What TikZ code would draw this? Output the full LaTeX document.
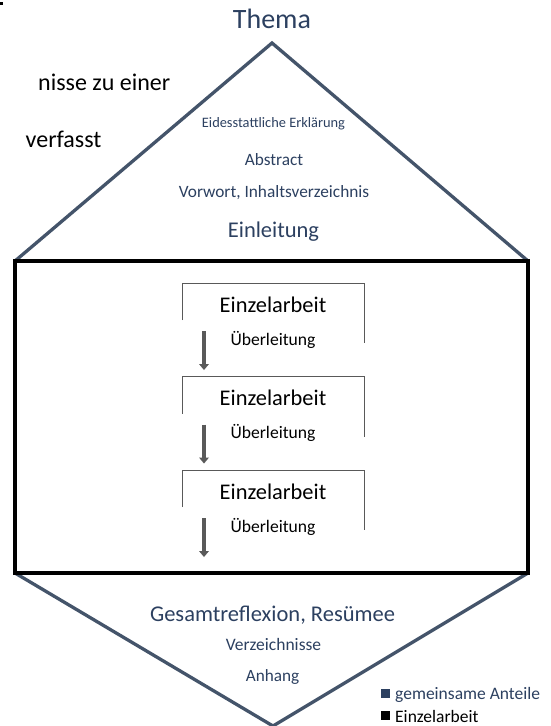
\documentclass[tikz,border=0pt]{standalone}
\usepackage{fontspec}
\setmainfont{Carlito}
\definecolor{navy}{HTML}{2C4060}
\definecolor{slate}{HTML}{44546A}
\definecolor{pfeil}{HTML}{595959}
\newcommand{\schrift}[1]{\fontsize{#1}{#1}\selectfont}
\begin{document}
\begin{tikzpicture}[x=1pt,y=-1pt]
\tikzstyle{every node}+=[inner sep=0pt, anchor=base]
\tikzstyle{gemeinsam}=[text=navy]
\tikzstyle{einzeln}=[text=black]
\useasboundingbox (0,0) rectangle (551,726);
% Rest der Folie
\fill [black] (0,1.5) rectangle (3,5);
\node [einzeln, anchor=base west, font=\schrift{24}] (satz1) at (38,90) {nisse zu einer};
\node [einzeln, anchor=base west, font=\schrift{24}] (satz2) at (25.5,147) {verfasst};
% Dach und Spitze
\draw [slate, line width=3.3] (15,261) -- (272,43) -- (528,261);
\draw [slate, line width=3.3] (15,573) -- (273,726) -- (528,573);
\draw [black, line width=3.3] (15,261) rectangle (528,573);
\node [gemeinsam, font=\schrift{28}] (thema) at (272,28) {Thema};
\node [gemeinsam, font=\schrift{14.4}] (eid) at (273.5,127) {Eidesstattliche Erklärung};
\node [gemeinsam, font=\schrift{17.3}] (abstract) at (274,165) {Abstract};
\node [gemeinsam, font=\schrift{17.3}] (vorwort) at (274,197) {Vorwort, Inhaltsverzeichnis};
\node [gemeinsam, font=\schrift{22.5}] (einl) at (273.5,237) {Einleitung};
% Einzelarbeiten
\draw [pfeil, line width=1] (182,320) -- (182,283) -- (364,283) -- (364,343);
\node [einzeln, font=\schrift{22.4}] (ea1) at (273,312) {Einzelarbeit};
\node [einzeln, font=\schrift{17.6}] (ue1) at (273,345) {Überleitung};
\coordinate (p1a) at (204,331);
\coordinate (p1b) at (204,364);
\draw [pfeil, line width=4] (p1a) -- (p1b);
\fill [pfeil] (199,364) -- (209,364) -- (204,370);
\draw [pfeil, line width=1] (182,413.5) -- (182,376.5) -- (364,376.5) -- (364,436.5);
\node [einzeln, font=\schrift{22.4}] (ea2) at (273,405.5) {Einzelarbeit};
\node [einzeln, font=\schrift{17.6}] (ue2) at (273,438.5) {Überleitung};
\coordinate (p2a) at (204,424.5);
\coordinate (p2b) at (204,457.5);
\draw [pfeil, line width=4] (p2a) -- (p2b);
\fill [pfeil] (199,457.5) -- (209,457.5) -- (204,463.5);
\draw [pfeil, line width=1] (182,507) -- (182,470) -- (364,470) -- (364,530);
\node [einzeln, font=\schrift{22.4}] (ea3) at (273,499) {Einzelarbeit};
\node [einzeln, font=\schrift{17.6}] (ue3) at (273,532) {Überleitung};
\coordinate (p3a) at (204,518);
\coordinate (p3b) at (204,551);
\draw [pfeil, line width=4] (p3a) -- (p3b);
\fill [pfeil] (199,551) -- (209,551) -- (204,557);
% Schluss
\node [gemeinsam, font=\schrift{22.5}] (gesamt) at (272.5,621) {Gesamtreflexion, Resümee};
\node [gemeinsam, font=\schrift{17.5}] (verz) at (273.5,650) {Verzeichnisse};
\node [gemeinsam, font=\schrift{17.2}] (anhang) at (272.5,681) {Anhang};
% Legende
\fill [navy] (381,689) rectangle (390,698);
\node [gemeinsam, anchor=base west, font=\schrift{17.5}] (leg1) at (395,699) {gemeinsame Anteile};
\fill [black] (381,711) rectangle (390,720);
\node [einzeln, anchor=base west, font=\schrift{17.5}] (leg2) at (395,722) {Einzelarbeit};
\end{tikzpicture}
\end{document}
